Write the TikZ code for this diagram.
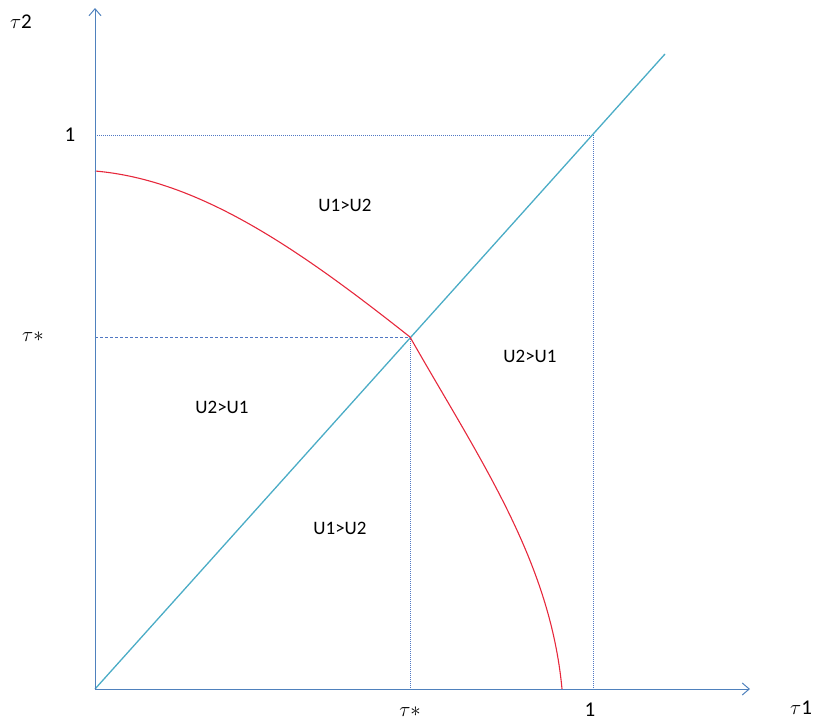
\documentclass[tikz,border=0pt]{standalone}
\usepackage{fontspec}
\setmainfont{Carlito}
\usetikzlibrary{arrows.meta}
\definecolor{axisblue}{RGB}{79,129,189}
\definecolor{diagblue}{RGB}{75,172,198}
\definecolor{curvered}{RGB}{230,40,60}
\definecolor{guide}{RGB}{80,120,195}
\begin{document}
\begin{tikzpicture}[x=1pt,y=-1pt,
  axis/.style={draw=axisblue,line width=1pt,-{Straight Barb[length=7pt,width=12pt]}},
  guideline/.style={draw=guide,line width=0.8pt,dash pattern=on 1pt off 1pt},
  guidedash/.style={draw=guide,line width=0.9pt,dash pattern=on 3pt off 2pt},
  diag/.style={draw=diagblue,line width=1.3pt},
  curve/.style={draw=curvered,line width=1.1pt},
  lbl/.style={font=\fontsize{19}{22}\selectfont},
  tick/.style={font=\fontsize{21}{24}\selectfont}]
\useasboundingbox (0,0) rectangle (817,723);
\coordinate (O) at (95,689);
\coordinate (ytop) at (95,8);
\coordinate (xend) at (750,689);
\coordinate (D) at (665,54);
\coordinate (one) at (593,135);
\coordinate (oney) at (95,135);
\coordinate (onex) at (593,689);
\coordinate (S) at (410,337);
\coordinate (Sy) at (95,337);
\coordinate (Sx) at (410,689);
\coordinate (C0) at (95,171);
\coordinate (C1) at (562,689);
% guides
\draw[guideline] (oney) -- (one) -- (onex);
\draw[guidedash] (Sy) -- (S);
\draw[guideline] (S) -- (Sx);
% diagonal
\draw[diag] (O) -- (D);
% curve
\draw[curve] (C0) .. controls (200,180) and (300,250) .. (S);
\draw[curve] (S) .. controls (480,460) and (550,560) .. (C1);
% axes
\draw[axis] (O) -- (ytop);
\draw[axis] (O) -- (xend);
% labels
\node[tick] (t2) at (21,22) {$\tau$2};
\node[tick] (t1) at (801,708) {$\tau$1};
\node[tick] (tsx) at (410,712) {$\tau\ast$};
\node[tick] (onexl) at (590,710) {1};
\node[tick] (oneyl) at (70,135) {1};
\node[tick] (tsy) at (33,337) {$\tau\ast$};
\node[lbl] (r1) at (345,205) {U1>U2};
\node[lbl] (r2) at (530,356) {U2>U1};
\node[lbl] (r3) at (222,407) {U2>U1};
\node[lbl] (r4) at (340,528) {U1>U2};
\end{tikzpicture}
\end{document}
